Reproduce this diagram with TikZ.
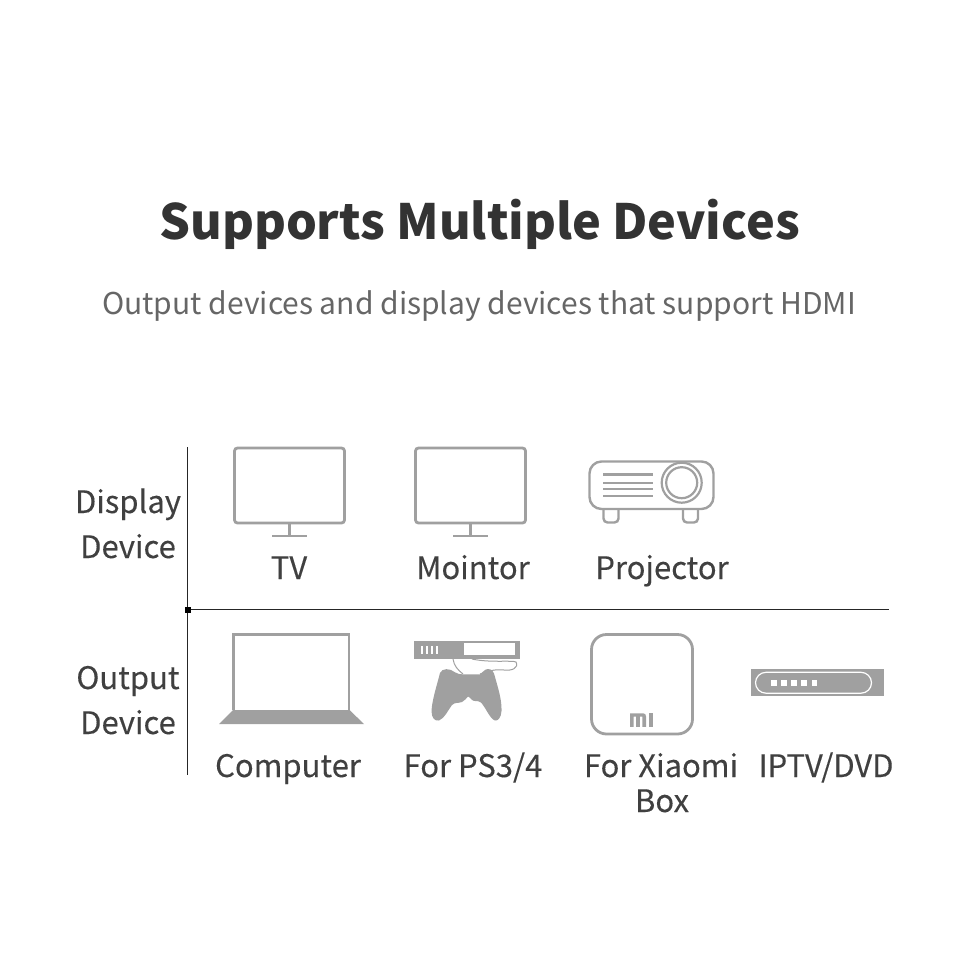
\documentclass[tikz,border=0pt]{standalone}
\usepackage{fontspec}
\setmainfont{Noto Sans CJK SC}
\newfontfamily\labelfont{Noto Sans CJK SC}[FakeBold=0.2]
\definecolor{icongray}{HTML}{A0A0A0}
\definecolor{titlegray}{HTML}{333333}
\definecolor{subgray}{HTML}{666666}
\definecolor{labelgray}{HTML}{404040}
\tikzset{
  titletext/.style={anchor=base,text=titlegray,font=\fontsize{48.6}{56}\selectfont\bfseries},
  subtext/.style={anchor=base,text=subgray,font=\fontsize{30}{36}\selectfont},
  devlabel/.style={anchor=base,text=labelgray,align=center,font=\fontsize{31}{35}\labelfont},
  iconline/.style={draw=icongray,line width=2.8pt},
  iconfill/.style={fill=icongray,draw=none},
  axisline/.style={draw=black!85,line width=1.3pt}
}
\begin{document}
\begin{tikzpicture}[x=1pt,y=-1pt]
\useasboundingbox (0,0) rectangle (960,960);
\fill[white] (0,0) rectangle (960,960);
% headings
\node[titletext] (title) at (479.5,239) {Supports Multiple Devices};
\node[subtext] (subtitle) at (479,314) {Output devices and display devices that support HDMI};
% axes
\coordinate (axistop) at (187.5,447);
\coordinate (axisbot) at (187.5,775);
\coordinate (axisorigin) at (187.5,609.5);
\coordinate (axisright) at (889,609.5);
\draw[axisline] (axistop) -- (axisbot);
\draw[axisline] (axisorigin) -- (axisright);
\fill[black] (184.5,606.5) rectangle (190.5,612.5);
% row labels
\node[devlabel] (display1) at (128,513) {Display};
\node[devlabel] (display2) at (128,558) {Device};
\node[devlabel] (output1) at (128,689) {Output};
\node[devlabel] (output2) at (128,734) {Device};
% tv
\draw[iconline,rounded corners=3pt] (234.5,448) rectangle (344.5,523);
\draw[iconline] (289.5,523) -- (289.5,536) (272,536) -- (307,536);
\node[devlabel] (tv) at (289,579) {TV};
% monitor
\draw[iconline,rounded corners=3pt] (415.5,448) rectangle (525.5,523);
\draw[iconline] (470.5,523) -- (470.5,536) (453,536) -- (488,536);
\node[devlabel] (monitor) at (473,579) {Mointor};
% projector
\draw[iconline,line width=2.4pt,rounded corners=12pt] (589.5,461.5) rectangle (713.5,509);
\draw[iconline,line width=2.4pt,rounded corners=4pt] (603.5,509) -- (603.5,522.5) -- (618.5,522.5) -- (618.5,509);
\draw[iconline,line width=2.4pt,rounded corners=4pt] (683,509) -- (683,522.5) -- (698,522.5) -- (698,509);
\foreach \yy in {474.5,482.7,489.2,496}
  \draw[icongray,line width=2.2pt] (603,\yy) -- (653,\yy);
\draw[icongray,line width=2.2pt] (681.7,482.7) circle (20);
\draw[icongray,line width=2.2pt] (681.7,482.7) circle (15.5);
\node[devlabel] (projector) at (662,579) {Projector};
% laptop
\draw[iconline] (233.5,710) -- (233.5,634.5) -- (349,634.5) -- (349,710);
\fill[iconfill] (233,710) -- (349.5,710) -- (364,724) -- (219,724) -- cycle;
\node[devlabel] (computer) at (288,777) {Computer};
% console with gamepad
\fill[iconfill] (413.5,640.7) rectangle (519.5,659);
\fill[white] (463.5,643.3) rectangle (515,655.3);
\foreach \xx in {420.5,425.5,430.5,435.5}
  \fill[white] (\xx,645.7) rectangle +(2.6,8.6);
\draw[icongray,line width=1pt] (453,659) .. controls (454,666) and (458,670) .. (463,674);
\draw[icongray,line width=1pt] (472,659) .. controls (490,663) and (512,660) .. (516,662) .. controls (519,668) and (512,671) .. (504,670) .. controls (495,669) and (488,671) .. (480,674);
\fill[iconfill] (440,673) .. controls (442,668) and (450,668) .. (455,672.3)
  .. controls (458,674) and (460,674.3) .. (462,674.3) -- (480,674.3)
  .. controls (483,672) and (485,669) .. (488,669) .. controls (492,669) and (494,672) .. (495,677)
  .. controls (498,688) and (502,700) .. (501.5,711) .. controls (501,718) and (498,721) .. (495,720.5)
  .. controls (490,719) and (486,708) .. (481,702.5) .. controls (478,700) and (474,702) .. (472,700)
  .. controls (470,698) and (469,696.5) .. (468,696.5) .. controls (466,698) and (465,701) .. (462,702)
  .. controls (458,703.5) and (455,702) .. (452,705) .. controls (448,710) and (445,718) .. (439,720.5)
  .. controls (435,721.5) and (431.5,718) .. (431.5,711) .. controls (432,700) and (437,685) .. (440,673) -- cycle;
\node[devlabel] (ps) at (473,777) {For PS3/4};
% xiaomi box
\draw[iconline,rounded corners=15pt] (591.5,634.5) rectangle (692.5,734);
\fill[iconfill] (630,713.3) -- (643,713.3) .. controls (645,713.3) and (646,714.5) .. (646,716.5) -- (646,726.8) -- (642.4,726.8) -- (642.4,716.6) -- (639.8,716.6) -- (639.8,726.8) -- (636.2,726.8) -- (636.2,716.6) -- (633.6,716.6) -- (633.6,726.8) -- (630,726.8) -- cycle;
\fill[iconfill] (649,713.3) rectangle (652.6,726.8);
\node[devlabel] (xiaomi) at (661,777) {For Xiaomi};
\node[devlabel] (xiaomi2) at (662,812) {Box};
% iptv box
\fill[iconfill] (751,669.3) rectangle (883.7,695.7);
\draw[white,line width=1.2pt,rounded corners=10.5pt] (755.5,672.3) rectangle (871.5,693.2);
\foreach \xx in {774,784,794,804,814.3}
  \fill[white] (\xx-2.8,680) rectangle +(5.6,5.6);
\node[devlabel] (iptv) at (826,777) {IPTV/DVD};
\end{tikzpicture}
\end{document}
